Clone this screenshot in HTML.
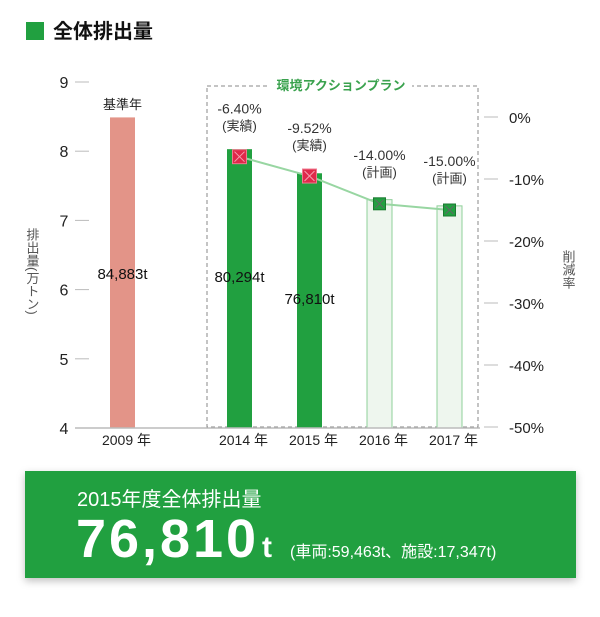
<!DOCTYPE html>
<html><head><meta charset="utf-8">
<style>
body{margin:0;background:#fff;width:600px;height:612px;overflow:hidden;font-family:"Liberation Sans","Noto Sans CJK JP",sans-serif;}
svg text{font-family:"Liberation Sans","Noto Sans CJK JP",sans-serif;}
.vt{writing-mode:vertical-rl;}
</style></head>
<body>
<svg id="chart" width="600" height="612" viewBox="0 0 600 612">
  <rect x="26" y="22" width="18" height="18" fill="#21a040"/>
  <text x="53" y="38" font-size="20" font-weight="bold" fill="#111">全体排出量</text>
  <g id="axes"></g>
  <g id="bars"></g>
  <g id="line"></g>
  <rect x="25" y="471" width="551" height="107" fill="#21a040" style="filter:drop-shadow(0 3px 4px rgba(0,0,0,0.25))"/>
  <text x="77" y="506" font-size="20" fill="#fff">2015年度全体排出量</text>
  <text x="76" y="557" font-size="54" font-weight="bold" fill="#fff" textLength="180" lengthAdjust="spacing">76,810</text>
  <text x="262" y="557" font-size="30" font-weight="bold" fill="#fff">t</text>
  <text x="290" y="557" font-size="16" fill="#fff">(車両:59,463t、施設:17,347t)</text>
</svg>
<script>
const years = ["2009","2014","2015","2016","2017"];
const emissions = [8.4883, 8.0294, 7.681, 7.30, 7.21];
const valueLabels = ["84,883t","80,294t","76,810t","",""];
const barTypes = ["base","actual","actual","plan","plan"];
const rateYears = ["2014","2015","2016","2017"];
const rates = [-6.40, -9.52, -14.00, -15.00];
const rateLabels = ["-6.40%","-9.52%","-14.00%","-15.00%"];
const rateNotes = ["(実績)","(実績)","(計画)","(計画)"];
const leftTicks = [4,5,6,7,8,9];
const rightTicks = [0,-10,-20,-30,-40,-50];

const NS="http://www.w3.org/2000/svg";
const yL = v => 428 - (v-4)*69.2;
const yR = p => 117 + (-p)*6.2;
const xC = {"2009":122.5,"2014":239.5,"2015":309.5,"2016":379.5,"2017":449.5};
function mk(tag, attrs, parent, txt){const e=document.createElementNS(NS,tag);for(const k in attrs)e.setAttribute(k,attrs[k]);if(txt!==undefined)e.textContent=txt;parent.appendChild(e);return e;}
const axes=document.getElementById('axes'), bars=document.getElementById('bars'), line=document.getElementById('line');

leftTicks.forEach(t=>{
  let e=mk('line',{x1:75,x2:89,y1:yL(t),y2:yL(t),stroke:'#bbb','stroke-width':1},axes);
  
  
  e=mk('text',{x:64,y:yL(t)+6,'font-size':16,'text-anchor':'middle',fill:'#222'},axes,String(t));
  
  
});
rightTicks.forEach(t=>{
  let e=mk('line',{x1:484,x2:498,y1:yR(t),y2:yR(t),stroke:'#bbb','stroke-width':1},axes);
  
  
  e=mk('text',{x:509,y:yR(t)+6,'font-size':15,fill:'#222'},axes,t+'%');
  
  
});
let e=mk('text',{x:32,y:228,'font-size':13,fill:'#555','class':'vt'},axes,'排出量(万トン)');


e=mk('text',{x:568,y:250,'font-size':13,fill:'#555','class':'vt'},axes,'削減率');


e=mk('rect',{x:207,y:86,width:271,height:341,fill:'none',stroke:'#888','stroke-dasharray':'4,3'},axes);


e=mk('rect',{x:270,y:76,width:142,height:18,fill:'#fff'},axes);


e=mk('text',{x:341,y:90,'font-size':13,'font-weight':'bold',fill:'#3aa24e','text-anchor':'middle'},axes,'環境アクションプラン');



years.forEach((y,i)=>{
  const t=barTypes[i], x=xC[y]-12.5, top=yL(emissions[i]);
  const fill = t==='base'?'#e39488':(t==='actual'?'#21a040':'#eef6ee');
  let b=mk('rect',{x:x,y:top,width:25,height:428-top,fill:fill,stroke:t==='plan'?'#8fd09a':'none','stroke-width':1},bars);
  
  
  if(valueLabels[i]){
    b=mk('text',{x:xC[y],y:i===2?304:(i===1?282:279),'font-size':15,'text-anchor':'middle',fill:'#111'},bars,valueLabels[i]);
    
    
  }
  b=mk('text',{x:xC[y]+4,y:445,'font-size':14,'text-anchor':'middle',fill:'#222'},bars,y+' 年');
  
  
});
e=mk('text',{x:xC["2009"],y:109,'font-size':13,'text-anchor':'middle',fill:'#222'},bars,'基準年');


e=mk('line',{x1:75,x2:480,y1:428,y2:428,stroke:'#bbb','stroke-width':1.5},bars);



const pts=rateYears.map((y,i)=>xC[y]+','+yR(rates[i])).join(' ');
e=mk('polyline',{points:pts,fill:'none',stroke:'#98d6a2','stroke-width':2},line);


rateYears.forEach((y,i)=>{
  const cx=xC[y], cy=yR(rates[i]), actual=i<2, s=actual?14:12;
  let m=mk('rect',{x:cx-s/2,y:cy-s/2,width:s,height:s,fill:actual?'#e0284a':'#21a040',stroke:actual?'#f07a90':'#1a7a30'},line);
  
  
  m=mk('path',{d:`M${cx-s/2+2} ${cy-s/2+2}L${cx+s/2-2} ${cy+s/2-2}M${cx+s/2-2} ${cy-s/2+2}L${cx-s/2+2} ${cy+s/2-2}`,stroke:actual?'#f4a0b0':'#666','stroke-width':1},line);
  
  
  const ty=cy-(actual?27:28);
  m=mk('text',{x:cx,y:ty-16,'font-size':14,'text-anchor':'middle',fill:'#333'},line,rateLabels[i]);
  
  
  m=mk('text',{x:cx,y:ty+1,'font-size':13,'text-anchor':'middle',fill:'#333'},line,rateNotes[i]);
  
  
});
</script>
</body></html>
